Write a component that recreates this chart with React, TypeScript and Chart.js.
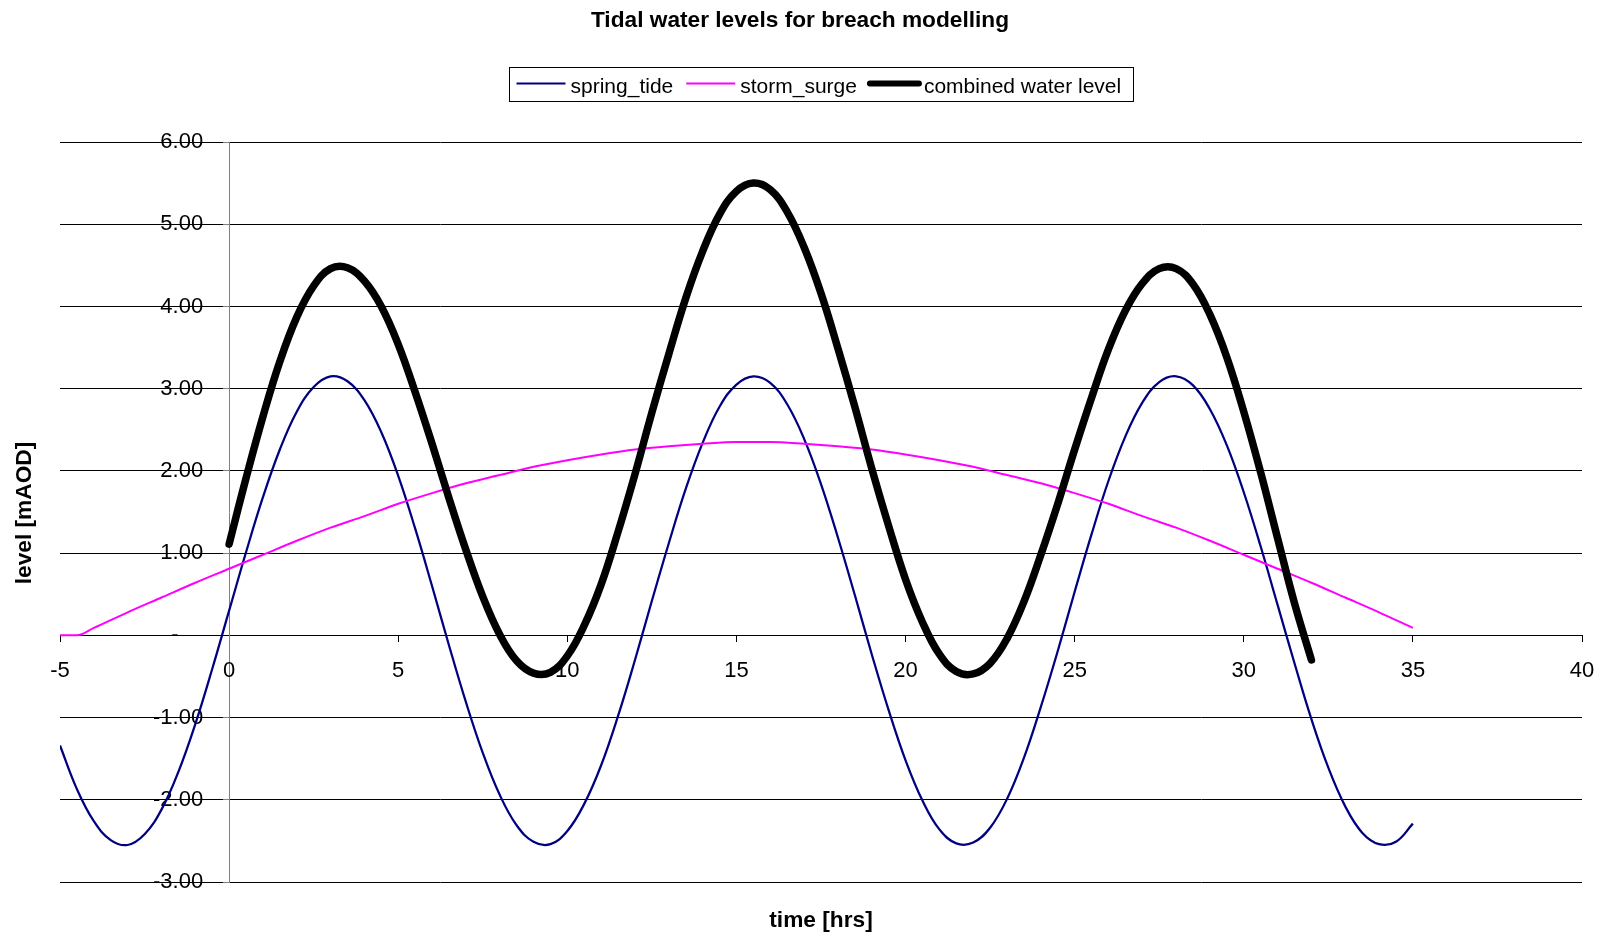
import { useEffect, useRef } from "react";
import { Chart, registerables } from "chart.js";

Chart.register(...registerables);

const FONT = '"Liberation Sans", Arial, Helvetica, sans-serif';

const CHART_TITLE = "Tidal water levels for breach modelling";
const X_TITLE = "time [hrs]";
const Y_TITLE = "level [mAOD]";

const SERIES_NAMES = ["spring_tide", "storm_surge", "combined water level"];
const SERIES_COLORS = ["#000080", "#FF00FF", "#000000"];

const X_MIN = -5;
const X_MAX = 40;
const X_STEP = 5;
const Y_MIN = -3;
const Y_MAX = 6;
const Y_STEP = 1;

// spring tide, every half hour from -5 h to 35 h
const SPRING_START = -5;
const SPRING_STEP = 0.5;
const springTide = [
  -1.34, -1.87, -2.26, -2.49, -2.55, -2.42, -2.12, -1.66, -1.08, -0.41,
  0.30, 1.01, 1.68, 2.26, 2.72, 3.02, 3.15, 3.09, 2.86, 2.47,
  1.94, 1.30, 0.60, -0.12, -0.81, -1.43, -1.94, -2.31, -2.51, -2.54,
  -2.38, -2.05, -1.58, -0.98, -0.30, 0.42, 1.12, 1.78, 2.34, 2.78,
  3.05, 3.15, 3.07, 2.81, 2.39, 1.84, 1.19, 0.49, -0.23, -0.91,
  -1.52, -2.01, -2.36, -2.53, -2.52, -2.34, -1.99, -1.49, -0.87, -0.19,
  0.53, 1.23, 1.88, 2.42, 2.83, 3.08, 3.15, 3.04, 2.75, 2.31,
  1.74, 1.08, 0.37, -0.34, -1.02, -1.61, -2.08, -2.40, -2.54, -2.51,
  -2.29,
];

// storm surge
const stormSurgeHours = [
  -5, -4.5, -4, -3, -2, -1, 0, 1, 2, 3, 4, 5, 6, 7, 8, 9, 10, 11, 12, 13, 14,
  15, 16, 17, 18, 19, 20, 21, 22, 23, 24, 25, 26, 27, 28, 29, 30, 31, 32, 33,
  34, 35,
];
const stormSurge = [
  0.0, 0.0, 0.09, 0.28, 0.46, 0.64, 0.81, 0.98, 1.15, 1.31, 1.45, 1.6, 1.73,
  1.85, 1.95, 2.05, 2.13, 2.2, 2.26, 2.3, 2.33, 2.35, 2.35, 2.33, 2.3, 2.26,
  2.2, 2.13, 2.05, 1.95, 1.85, 1.73, 1.6, 1.45, 1.31, 1.15, 0.98, 0.81, 0.64,
  0.46, 0.28, 0.09,
];

// combined water level, every half hour from 0 h to 32 h
const COMBINED_START = 0;
const COMBINED_STEP = 0.5;
const combinedLevel = [
  1.11, 1.91, 2.66, 3.33, 3.87, 4.25, 4.46, 4.47, 4.31, 4.0,
  3.54, 2.96, 2.33, 1.67, 1.04, 0.47, 0.01, -0.31, -0.46, -0.45,
  -0.25, 0.12, 0.62, 1.26, 1.96, 2.71, 3.42, 4.1, 4.67, 5.12,
  5.4, 5.5, 5.42, 5.15, 4.72, 4.16, 3.49, 2.78, 2.03, 1.33,
  0.68, 0.16, -0.23, -0.44, -0.47, -0.34, -0.04, 0.41, 0.98, 1.6,
  2.26, 2.89, 3.48, 3.95, 4.28, 4.46, 4.46, 4.27, 3.9, 3.38,
  2.72, 1.98, 1.18, 0.39, -0.3,
];

const LINE_WIDTHS = [2.25, 2, 7.5];
const LEGEND_LINE_WIDTHS = [2, 2, 6];

const TICK_FONT = `22px ${FONT}`;
const TITLE_FONT = `bold 22.7px ${FONT}`;
const LEGEND_FONT = `21px ${FONT}`;

const toPoints = (start: number, step: number, values: number[]) =>
  values.map((y, i) => ({ x: start + i * step, y }));

const yTickLabel = (v: number) => (v === 0 ? "-    " : v.toFixed(2));
const xTickLabel = (v: number) => String(v);

const tickLabelPlugin = {
  id: "excelTickLabels",
  beforeDatasetsDraw(chart: any) {
    const { ctx } = chart;
    const xs = chart.scales.x;
    const ys = chart.scales.y;
    const axisX = xs.getPixelForValue(0);
    const axisY = ys.getPixelForValue(0);
    ctx.save();
    ctx.fillStyle = "#000";
    ctx.font = TICK_FONT;
    ctx.textAlign = "right";
    ctx.textBaseline = "middle";
    ys.ticks.forEach((t: any) => {
      ctx.fillText(yTickLabel(t.value), axisX - 26, ys.getPixelForValue(t.value));
    });
    ctx.textAlign = "center";
    ctx.textBaseline = "alphabetic";
    xs.ticks.forEach((t: any) => {
      ctx.fillText(xTickLabel(t.value), xs.getPixelForValue(t.value), axisY + 42);
    });
    ctx.restore();
  },
};

const textPlugin = {
  id: "excelText",
  afterDraw(chart: any) {
    const { ctx, chartArea, width } = chart;
    const cx = (chartArea.left + chartArea.right) / 2;
    ctx.save();
    ctx.fillStyle = "#000";
    ctx.textBaseline = "alphabetic";

    ctx.font = TITLE_FONT;
    ctx.textAlign = "center";
    ctx.fillText(CHART_TITLE, width / 2, 26.5);
    ctx.fillText(X_TITLE, cx, 926.5);

    ctx.save();
    ctx.translate(31, (chartArea.top + chartArea.bottom) / 2 + 1);
    ctx.rotate(-Math.PI / 2);
    ctx.fillText(Y_TITLE, 0, 0);
    ctx.restore();

    // legend
    const SAMPLE = 49;
    const TEXT_GAP = 5;
    const ITEM_GAP = 13;
    const PAD_L = 7;
    const PAD_R = 12;
    ctx.font = LEGEND_FONT;
    ctx.textAlign = "left";
    const datasets = chart.data.datasets;
    const widths = datasets.map((d: any) => ctx.measureText(d.label).width);
    const total =
      PAD_L +
      widths.reduce((s: number, w: number) => s + SAMPLE + TEXT_GAP + w, 0) +
      ITEM_GAP * (datasets.length - 1) +
      PAD_R;
    const left = Math.round(cx - total / 2) + 0.5;
    ctx.strokeStyle = "#000";
    ctx.lineWidth = 1;
    ctx.strokeRect(left, 67.5, Math.round(total), 34);
    let x = left + PAD_L;
    datasets.forEach((d: any, i: number) => {
      ctx.beginPath();
      ctx.strokeStyle = d.borderColor;
      ctx.lineWidth = LEGEND_LINE_WIDTHS[i];
      ctx.lineCap = d.borderCapStyle === "round" ? "round" : "butt";
      ctx.moveTo(x, 83.5);
      ctx.lineTo(x + SAMPLE, 83.5);
      ctx.stroke();
      x += SAMPLE + TEXT_GAP;
      ctx.fillStyle = "#000";
      ctx.fillText(d.label, x, 92.5);
      x += widths[i] + ITEM_GAP;
    });
    ctx.restore();
  },
};

export default function App() {
  const canvasRef = useRef<HTMLCanvasElement | null>(null);

  useEffect(() => {
    const canvas = canvasRef.current;
    if (!canvas) return;
    const chart = new Chart(canvas, {
      type: "line",
      data: {
        datasets: [
          {
            label: SERIES_NAMES[0],
            data: toPoints(SPRING_START, SPRING_STEP, springTide),
            borderColor: SERIES_COLORS[0],
            backgroundColor: SERIES_COLORS[0],
            borderWidth: LINE_WIDTHS[0],
            pointRadius: 0,
            tension: 0.4,
            fill: false,
            order: 2,
          },
          {
            label: SERIES_NAMES[1],
            data: stormSurgeHours.map((x, i) => ({ x, y: stormSurge[i] })),
            borderColor: SERIES_COLORS[1],
            backgroundColor: SERIES_COLORS[1],
            borderWidth: LINE_WIDTHS[1],
            pointRadius: 0,
            cubicInterpolationMode: "monotone",
            fill: false,
            order: 1,
          },
          {
            label: SERIES_NAMES[2],
            data: toPoints(COMBINED_START, COMBINED_STEP, combinedLevel),
            borderColor: SERIES_COLORS[2],
            backgroundColor: SERIES_COLORS[2],
            borderWidth: LINE_WIDTHS[2],
            borderCapStyle: "round",
            borderJoinStyle: "round",
            pointRadius: 0,
            tension: 0.4,
            fill: false,
            order: 0,
          },
        ],
      },
      options: {
        animation: false,
        responsive: true,
        maintainAspectRatio: false,
        events: [],
        layout: { padding: { left: 60, right: 18, top: 142, bottom: 54 } },
        plugins: {
          legend: { display: false },
          title: { display: false },
          tooltip: { enabled: false },
        },
        scales: {
          x: {
            type: "linear",
            position: { y: 0 } as any,
            min: X_MIN,
            max: X_MAX,
            ticks: {
              stepSize: X_STEP,
              display: false,
              padding: 0,
            },
            grid: {
              drawOnChartArea: false,
              drawTicks: true,
              tickLength: 6,
              tickColor: "#000",
            },
            border: { display: true, color: "#000", width: 1 },
          },
          y: {
            type: "linear",
            position: { x: 0 } as any,
            min: Y_MIN,
            max: Y_MAX,
            ticks: {
              stepSize: Y_STEP,
              display: false,
              padding: 0,
            },
            grid: {
              color: "#000",
              lineWidth: 1,
              drawTicks: true,
              tickLength: 6,
              tickColor: "#808080",
            },
            border: { display: true, color: "#808080", width: 1 },
          },
        },
      },
      plugins: [tickLabelPlugin, textPlugin],
    });
    return () => chart.destroy();
  }, []);

  return (
    <div
      style={{
        position: "absolute",
        left: 0,
        top: 0,
        width: 1600,
        height: 936,
        background: "#fff",
      }}
    >
      <canvas ref={canvasRef} />
    </div>
  );
}
